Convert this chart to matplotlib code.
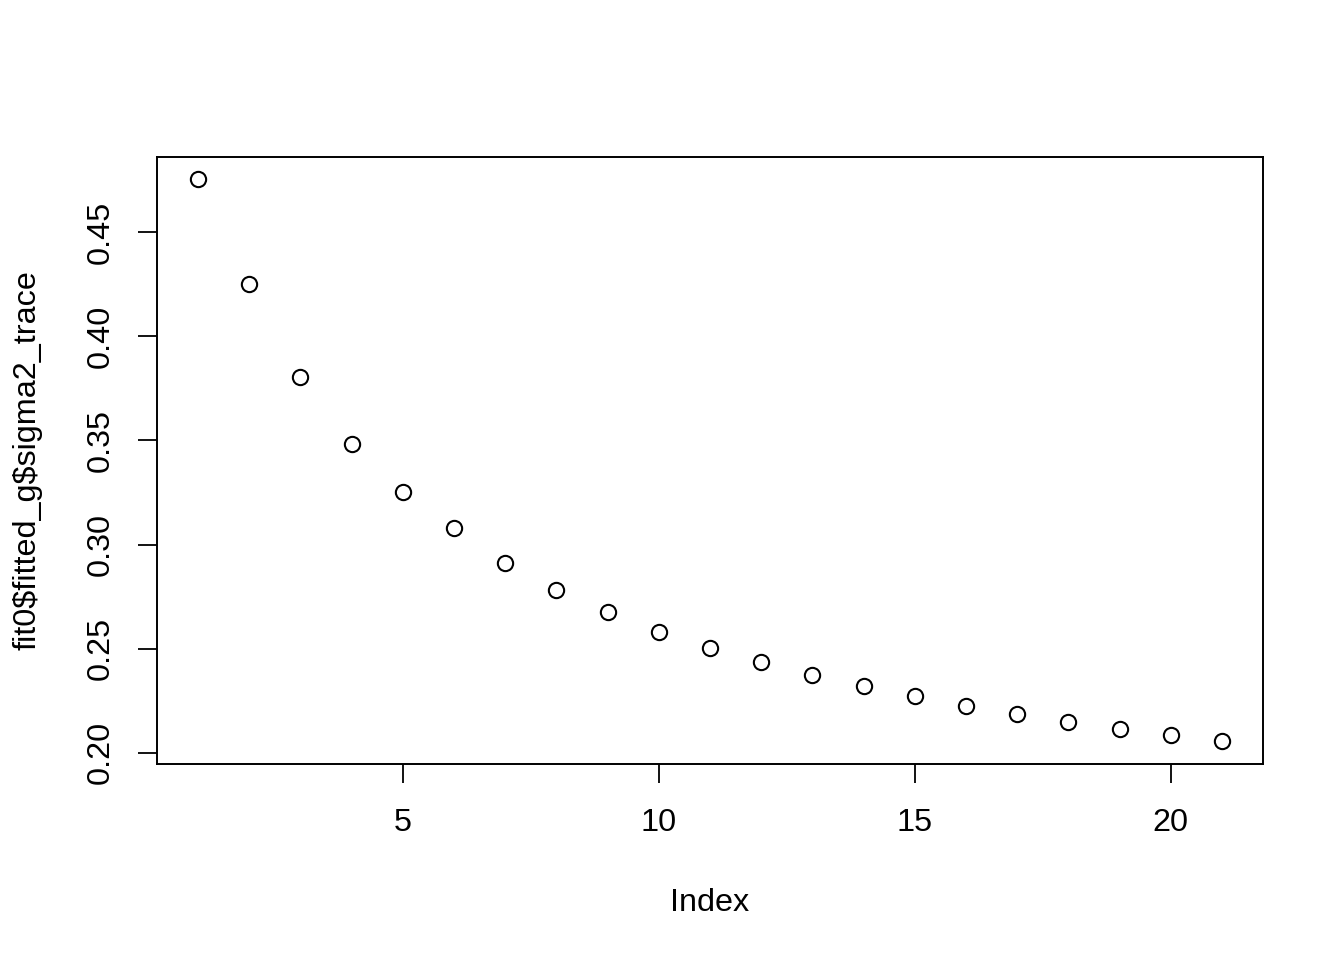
import matplotlib
matplotlib.use("Agg")
import matplotlib.pyplot as plt

# sigma2 trace per iteration
index = list(range(1, 22))
sigma2_trace = [0.4755, 0.4254, 0.3806, 0.3484, 0.3252, 0.3079, 0.2910,
                0.2780, 0.2674, 0.2578, 0.2501, 0.2434, 0.2371, 0.2318,
                0.2270, 0.2222, 0.2183, 0.2145, 0.2111, 0.2082, 0.2053]
x_ticks = [5, 10, 15, 20]
y_ticks = [0.20, 0.25, 0.30, 0.35, 0.40, 0.45]

plt.rcParams["font.family"] = ["Liberation Sans", "DejaVu Sans"]
FS = 23.3

fig = plt.figure(figsize=(13.44, 9.6), dpi=100)
ax = fig.add_axes([0.1168, 0.2042, 0.8229, 0.6323])

ax.plot(index, sigma2_trace, linestyle="none", marker="o", markersize=11,
        markerfacecolor="none", markeredgecolor="black", markeredgewidth=1.5)

# R's default 4% padding on both axes
xr = max(index) - min(index)
ax.set_xlim(min(index) - 0.04 * xr, max(index) + 0.04 * xr)
yr = max(sigma2_trace) - min(sigma2_trace)
ax.set_ylim(min(sigma2_trace) - 0.04 * yr, max(sigma2_trace) + 0.04 * yr)

ax.set_xticks(x_ticks)
ax.set_xticklabels([str(t) for t in x_ticks])
ax.set_yticks(y_ticks)
ax.set_yticklabels([f"{t:.2f}" for t in y_ticks], rotation=90, va="center")
ax.tick_params(direction="out", length=13.7, width=1.3, labelsize=FS)
ax.tick_params(axis="x", pad=18)
ax.tick_params(axis="y", pad=16)

for s in ax.spines.values():
    s.set_linewidth(1.4)

ax.set_xlabel("Index", fontsize=FS, labelpad=36)
ax.set_ylabel(r"fit0\$fitted_g\$sigma2_trace", fontsize=FS, labelpad=31)

fig.savefig("out.png", dpi=100)
plt.close(fig)
